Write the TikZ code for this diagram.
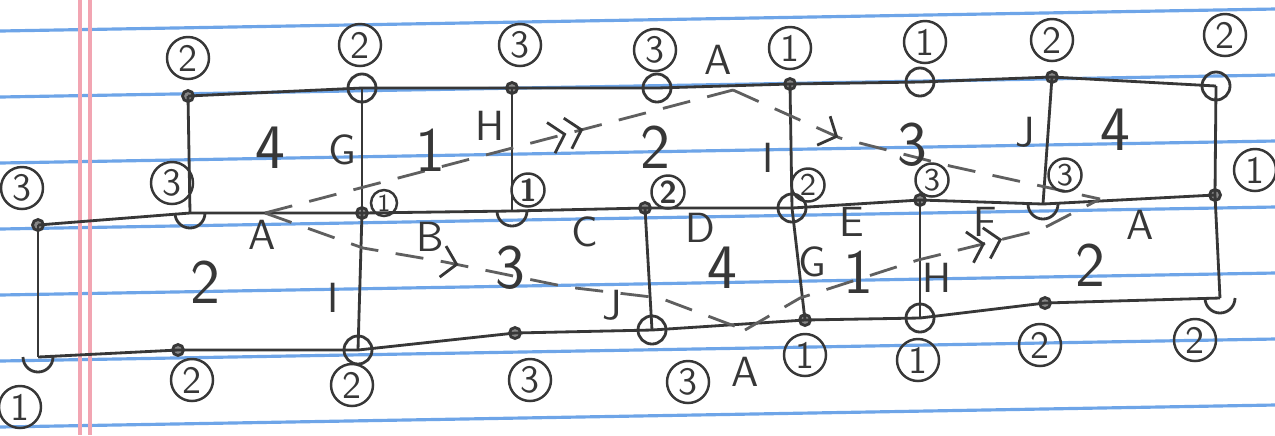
\documentclass[tikz,border=0pt]{standalone}
\usepackage{tikz}
\usetikzlibrary{arrows.meta, decorations.markings}
\definecolor{ink}{RGB}{55,55,55}
\definecolor{pencil}{RGB}{95,95,95}
\definecolor{rule}{RGB}{110,165,232}
\definecolor{margin}{RGB}{242,165,178}
\tikzstyle{ringv} = [circle, draw=ink, line width=0.8pt, minimum size=0.28cm, inner sep=0pt]
\tikzstyle{dotv} = [circle, draw=ink, fill=ink!60, line width=0.8pt, minimum size=0.11cm, inner sep=0pt]
\tikzstyle{edge} = [draw=ink, line width=0.8pt]
\tikzstyle{numlab} = [circle, draw=ink, line width=0.7pt, minimum size=0.42cm, inner sep=0pt, text=ink, font=\sffamily\fontsize{11}{11}\selectfont]
\tikzstyle{nummid} = [numlab, minimum size=0.33cm, font=\sffamily\fontsize{9}{9}\selectfont]
\tikzstyle{letter} = [text=ink, font=\sffamily\fontsize{12}{12}\selectfont]
\tikzstyle{face} = [text=ink, font=\sffamily\fontsize{18}{18}\selectfont]
\tikzstyle{loop} = [draw=pencil, line width=0.8pt, dash pattern=on 8pt off 5pt]
\tikzset{
  fwd/.style={postaction={decorate}, decoration={markings,
    mark=at position #1 with {\arrow[ink, solid, line width=0.8pt]{Straight Barb[length=4pt,width=9pt]}}}},
  fwdd/.style={postaction={decorate}, decoration={markings,
    mark=at position #1 with {\arrow[ink, solid, line width=0.8pt]{Straight Barb[length=4pt,width=9pt] Straight Barb[length=4pt,width=9pt]}}}}
}

\begin{document}
\begin{tikzpicture}[x=0.01cm, y=-0.01cm]
    % Kertas bergaris
    \fill[white] (0,0) rectangle (1275,435);
    \useasboundingbox (0,0) rectangle (1275,435);
    \foreach \i in {0,...,6}
        \draw[rule, line width=0.9pt] (0,{31+66*\i}) -- (1275,{9+66*\i});
    \draw[margin, line width=0.9pt] (80,0) -- (80,435);
    \draw[margin, line width=0.9pt] (90,0) -- (90,435);

    % Titik sudut baris atas
    \node (t1) [dotv] at (188,96) {};
    \node (t2) [ringv] at (362,88) {};
    \node (t3) [dotv] at (512,88) {};
    \node (t4) [ringv] at (657,88) {};
    \node (t5) [dotv] at (790,84) {};
    \node (t6) [ringv] at (920,82) {};
    \node (t7) [dotv] at (1052,77) {};
    \node (t8) [ringv] at (1216,86) {};

    % Titik sudut baris tengah
    \node (m0) [dotv] at (38,225) {};
    \coordinate (m1) at (190,213);
    \node (m2) [dotv] at (362,213) {};
    \coordinate (m3) at (512,211);
    \node (m4) [dotv] at (645,208) {};
    \node (m5) [ringv] at (792,208) {};
    \node (m6) [dotv] at (920,200) {};
    \coordinate (m7) at (1043,204);
    \node (m8) [dotv] at (1215,195) {};

    % Titik sudut baris bawah
    \coordinate (b0) at (38,357);
    \node (b1) [dotv] at (178,350) {};
    \node (b2) [ringv] at (358,350) {};
    \node (b3) [dotv] at (515,333) {};
    \node (b4) [ringv] at (652,330) {};
    \node (b5) [dotv] at (805,320) {};
    \node (b6) [ringv] at (920,318) {};
    \node (b7) [dotv] at (1045,303) {};
    \coordinate (b8) at (1220,298);

    % Setengah lingkaran
    \foreach \v in {m1,m3,m7,b0,b8}
        \draw[edge] (\v) ++(-0.15cm,0) arc[start angle=180, end angle=360, radius=0.15cm];

    % Garis mendatar
    \draw[edge] (t1.center) -- (t2.center) -- (t3.center) -- (t4.center) -- (t5.center) -- (t6.center) -- (t7.center) -- (t8.center);
    \draw[edge] (m0.center) -- (m1) -- (m2.center) -- (m3) -- (m4.center) -- (m5.center) -- (m6.center) -- (m7) -- (m8.center);
    \draw[edge] (b0) -- (b1.center) -- (b2.center) -- (b3.center) -- (b4.center) -- (b5.center) -- (b6.center) -- (b7.center) -- (b8);

    % Garis tegak
    \draw[edge] (t1.center) -- (m1);
    \draw[edge] (t2.center) -- (m2.center);
    \draw[edge] (t3.center) -- (m3);
    \draw[edge] (t5.center) -- (m5.center);
    \draw[edge] (t7.center) -- (m7);
    \draw[edge] (t8.center) -- (m8.center);
    \draw[edge] (m0.center) -- (b0);
    \draw[edge] (m2.center) -- (b2.center);
    \draw[edge] (m4.center) -- (b4.center);
    \draw[edge] (m5.center) -- (b5.center);
    \draw[edge] (m6.center) -- (b6.center);
    \draw[edge] (m8.center) -- (b8);

    % Lintasan putus-putus
    \coordinate (aL) at (265,213);
    \coordinate (aT) at (733,90);
    \coordinate (aR) at (1100,199);
    \coordinate (aB) at (745,330);
    \draw[loop, fwdd=0.68] (aL) -- (aT);
    \draw[loop, fwd=0.30] (aT) -- (840,138) -- (950,166) -- (aR);
    \draw[loop, fwd=0.405] (aL) -- (363,248) -- (445,262) -- (567,287) -- (660,298) -- (aB);
    \draw[loop, fwdd=0.72] (aB) -- (800,298) -- (918,260) -- (1040,230) -- (aR);

    % Angka berlingkar
    \node (ct1) [numlab] at (188,58) {2};
    \node (ct2) [numlab] at (360,45) {2};
    \node (ct3) [numlab] at (520,45) {3};
    \node (ct4) [numlab] at (655,50) {3};
    \node (ct5) [numlab] at (790,48) {1};
    \node (ct6) [numlab] at (925,42) {1};
    \node (ct7) [numlab] at (1052,40) {2};
    \node (ct8) [numlab] at (1225,35) {2};
    \node (cm0) [numlab] at (22,188) {3};
    \node (cm1) [numlab] at (172,183) {3};
    \node (cm8) [numlab] at (1255,170) {1};
    \node (cm2) [nummid, minimum size=0.26cm, font=\sffamily\fontsize{7}{7}\selectfont] at (384,203) {1};
    \node (cm3) [nummid] at (528,190) {\bfseries 1};
    \node (cm4) [nummid] at (668,192) {\bfseries 2};
    \node (cm5) [nummid] at (808,185) {2};
    \node (cm6) [nummid] at (932,180) {3};
    \node (cm7) [nummid] at (1065,175) {3};
    \node (cb0) [numlab] at (20,407) {1};
    \node (cb1) [numlab] at (192,380) {2};
    \node (cb2) [numlab] at (352,385) {2};
    \node (cb3) [numlab] at (530,380) {3};
    \node (cb4) [numlab] at (688,382) {3};
    \node (cb5) [numlab] at (805,355) {1};
    \node (cb6) [numlab] at (918,360) {1};
    \node (cb7) [numlab] at (1040,345) {2};
    \node (cb8) [numlab] at (1195,340) {2};

    % Huruf sisi
    \node (lA1) [letter] at (262,235) {A};
    \node (lB) [letter] at (430,237) {B};
    \node (lC) [letter] at (585,232) {C};
    \node (lD) [letter] at (700,228) {D};
    \node (lE) [letter] at (852,222) {E};
    \node (lF) [letter] at (985,222) {F};
    \node (lA2) [letter] at (1140,225) {A};
    \node (lA3) [letter] at (718,60) {A};
    \node (lA4) [letter] at (745,372) {A};
    \node (lG1) [letter] at (342,150) {G};
    \node (lH1) [letter] at (490,126) {H};
    \node (lI1) [letter] at (768,158) {I};
    \node (lJ1) [letter] at (1025,132) {J};
    \node (lI2) [letter] at (333,298) {I};
    \node (lJ2) [letter] at (612,305) {J};
    \node (lG2) [letter] at (812,262) {G};
    \node (lH2) [letter] at (937,278) {H};

    % Nomor muka
    \node (f1) [face] at (270,148) {4};
    \node (f2) [face] at (430,150) {1};
    \node (f3) [face] at (655,147) {2};
    \node (f4) [face] at (912,145) {3};
    \node (f5) [face] at (1115,130) {4};
    \node (f6) [face] at (205,282) {2};
    \node (f7) [face] at (510,268) {3};
    \node (f8) [face] at (722,268) {4};
    \node (f9) [face] at (858,272) {1};
    \node (f10) [face] at (1090,265) {2};
\end{tikzpicture}
\end{document}
